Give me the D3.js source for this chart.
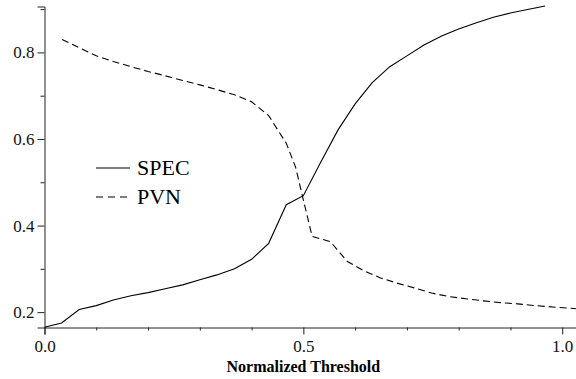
<!DOCTYPE html>
<html>
<head>
<meta charset="utf-8">
<script src="https://cdn.jsdelivr.net/npm/d3@7"></script>
<style>
  body { margin: 0; background: #fff; }
  svg { display: block; font-family: "Liberation Serif", "Times New Roman", serif; }
</style>
</head>
<body>
<div id="chart"></div>
<script>
// thresholds for SPEC
const specX = [0, 0.033, 0.067, 0.1, 0.133, 0.167, 0.2, 0.233, 0.267, 0.3,
  0.333, 0.367, 0.4, 0.433, 0.467, 0.5, 0.533, 0.567, 0.6, 0.633,
  0.667, 0.7, 0.733, 0.767, 0.8, 0.833, 0.867, 0.9, 0.933, 0.967];
const spec = [0.165, 0.175, 0.206, 0.215, 0.228, 0.238, 0.245, 0.254, 0.263, 0.275,
  0.286, 0.300, 0.322, 0.359, 0.448, 0.469, 0.545, 0.621, 0.681, 0.730,
  0.767, 0.792, 0.817, 0.838, 0.854, 0.868, 0.881, 0.891, 0.899, 0.907];

// thresholds for PVN
const pvnX = [0.034, 0.067, 0.1, 0.133, 0.167, 0.2, 0.233, 0.267, 0.3, 0.333,
  0.367, 0.4, 0.433, 0.467, 0.485, 0.5, 0.517, 0.552, 0.585, 0.618,
  0.649, 0.681, 0.714, 0.748, 0.781, 0.814, 0.848, 0.881, 0.914, 0.948,
  0.981, 1.014, 1.047];
const pvn = [0.830, 0.811, 0.792, 0.779, 0.767, 0.756, 0.746, 0.735, 0.725, 0.714,
  0.702, 0.686, 0.654, 0.590, 0.535, 0.459, 0.375, 0.363, 0.317, 0.295,
  0.279, 0.267, 0.256, 0.244, 0.236, 0.231, 0.226, 0.222, 0.219, 0.215,
  0.212, 0.209, 0.206];

const xMajor = [0, 0.5, 1.0];
const xMinor = [0.1, 0.2, 0.3, 0.4, 0.6, 0.7, 0.8, 0.9];
const yMajor = [0.2, 0.4, 0.6, 0.8];
const yMinor = [0.3, 0.5, 0.7, 0.9];

const width = 576, height = 379;

const svg = d3.select('#chart').append('svg')
  .attr('width', width)
  .attr('height', height);

const x = d3.scaleLinear().domain([0, 1.0276]).range([44.5, 576.5]);
const y = d3.scaleLinear().domain([0.1645, 0.906]).range([327.5, 6.5]);

// x axis
const gx = svg.append('g').attr('transform', `translate(0,${y.range()[0]})`);
gx.call(d3.axisBottom(x).tickValues(xMinor).tickSize(3).tickFormat(''));
gx.append('g').call(d3.axisBottom(x).tickValues(xMajor).tickSize(7).tickFormat(d3.format('.1f')));
gx.selectAll('.tick text').attr('dy', '0.85em');

// y axis
const gy = svg.append('g').attr('transform', `translate(${x.range()[0]},0)`);
gy.call(d3.axisLeft(y).tickValues(yMinor).tickSize(4).tickFormat(''));
gy.append('g').call(d3.axisLeft(y).tickValues(yMajor).tickSize(7).tickFormat(d3.format('.1f')));

svg.selectAll('.domain').attr('stroke', '#222');
svg.selectAll('.tick line').attr('stroke', '#222');
svg.selectAll('.tick text')
  .attr('font-family', '"Liberation Serif", serif')
  .attr('font-size', 17)
  .attr('fill', '#111');
gy.selectAll('.tick text').attr('x', -10);
// the major axes are drawn on top of the minor ones, drop their duplicate domain
gx.select('g .domain').remove();
gy.select('g .domain').remove();

svg.append('text')
  .attr('x', x(0.5))
  .attr('y', 372)
  .attr('text-anchor', 'middle')
  .attr('font-weight', 'bold')
  .attr('font-size', 16)
  .text('Normalized Threshold');

const line = d3.line()
  .x(d => x(d[0]))
  .y(d => y(d[1]));

svg.append('path')
  .datum(specX.map((t, i) => [t, spec[i]]))
  .attr('d', line)
  .attr('fill', 'none')
  .attr('stroke', '#000')
  .attr('stroke-width', 1.1);

svg.append('path')
  .datum(pvnX.map((t, i) => [t, pvn[i]]))
  .attr('d', line)
  .attr('fill', 'none')
  .attr('stroke', '#000')
  .attr('stroke-width', 1.1)
  .attr('stroke-dasharray', '7,4');

// legend
const legend = [
  { name: 'SPEC', dash: null, y: 168 },
  { name: 'PVN', dash: '7,5', y: 197 }
];
const lg = svg.append('g');
legend.forEach(d => {
  lg.append('line')
    .attr('x1', 96).attr('x2', 130)
    .attr('y1', d.y).attr('y2', d.y)
    .attr('stroke', '#000')
    .attr('stroke-width', 1.1)
    .attr('stroke-dasharray', d.dash);
  lg.append('text')
    .attr('x', 137)
    .attr('y', d.y + 7)
    .attr('font-size', 22)
    .text(d.name);
});
</script>
</body>
</html>
